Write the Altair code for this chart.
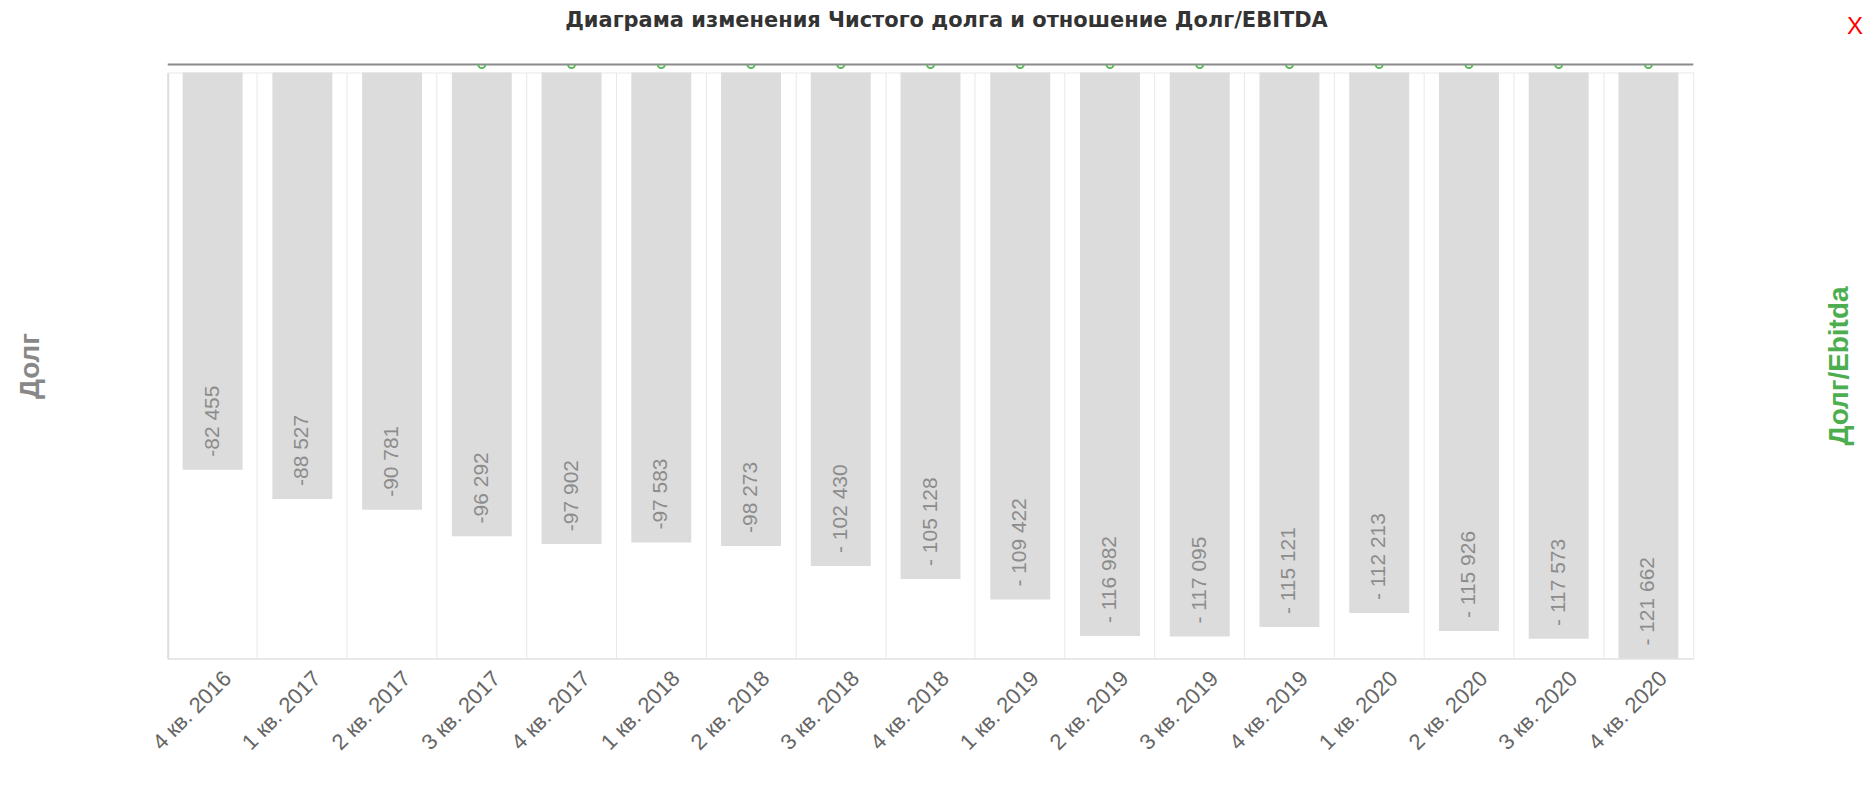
import altair as alt
import pandas as pd

quarters = ["4 кв. 2016", "1 кв. 2017", "2 кв. 2017", "3 кв. 2017", "4 кв. 2017",
            "1 кв. 2018", "2 кв. 2018", "3 кв. 2018", "4 кв. 2018",
            "1 кв. 2019", "2 кв. 2019", "3 кв. 2019", "4 кв. 2019",
            "1 кв. 2020", "2 кв. 2020", "3 кв. 2020", "4 кв. 2020"]
net_debt = [-82455, -88527, -90781, -96292, -97902, -97583, -98273, -102430, -105128,
            -109422, -116982, -117095, -115121, -112213, -115926, -117573, -121662]
debt_ebitda = [None, None, None, 0, 0, 0, 0, 0, 0, 0, 0, 0, 0, 0, 0, 0, 0]


def fmt(v):
    s = f"{abs(v):,}".replace(",", " ")
    return ("- " if abs(v) >= 100000 else "-") + s


df = pd.DataFrame({
    "q": quarters,
    "debt": net_debt,
    "label": [fmt(v) for v in net_debt],
    "ratio": debt_ebitda,
})

W, H = 1528, 587

xenc = alt.X("q:N", sort=quarters, title=None,
             scale=alt.Scale(paddingInner=0, paddingOuter=0),
             axis=alt.Axis(bandPosition=0, grid=True, gridColor="#e8e8e8", gridWidth=1,
                           ticks=False, domainColor="#e8e8e8", domainWidth=2,
                           labelAngle=-45, labelAlign="right", labelBaseline="middle",
                           labelOffset=15, labelPadding=16,
                           labelFontSize=22, labelColor="#666666", labelFont="Liberation Sans"))

yscale = alt.Scale(domain=[min(net_debt), 0], nice=False, zero=False)
yaxis = alt.Axis(orient="left", title="Долг", labels=False, ticks=False, grid=False,
                 domainColor="#dddddd", domainWidth=2,
                 titleFontSize=28, titleFont="Liberation Sans", titleFontWeight="bold",
                 titleColor="#888888", titleAngle=270, titleX=-137, titleY=H / 2,
                 titleAlign="center", titleBaseline="middle")

bars = alt.Chart(df).mark_bar(color="#dcdcdc", width=alt.RelativeBandSize(0.668)).encode(
    x=xenc,
    y=alt.Y("debt:Q", scale=yscale, axis=yaxis, title="Долг"),
)

text = alt.Chart(df).mark_text(angle=270, align="left", baseline="middle", dx=13,
                               fontSize=21, font="Liberation Sans", color="#8c8c8c").encode(
    x=alt.X("q:N", sort=quarters),
    y=alt.Y("debt:Q", scale=yscale, axis=yaxis, title="Долг"),
    text="label:N",
)

ratio_scale = alt.Scale(domain=[-1, 0], range=[H, -8], nice=False, zero=False)
raxis = alt.Axis(orient="right", title="Долг/Ebitda", labels=False, ticks=False,
                 domain=False, grid=False,
                 titleFontSize=28, titleFont="Liberation Sans", titleFontWeight="bold",
                 titleColor="#4cae4f", titleAngle=270, titleX=146, titleY=H / 2,
                 titleAlign="center", titleBaseline="middle")

rule = alt.Chart(df).mark_rule(color="#8a8a8a", strokeWidth=2).encode(
    y=alt.Y("datum_zero:Q", scale=ratio_scale, axis=raxis, title="Долг/Ebitda"),
).transform_aggregate(datum_zero="min(ratio)")

points = alt.Chart(df).mark_point(shape="M -1 0 A 1 1 0 0 0 1 0", filled=False,
                                  color="#5cb85c", strokeWidth=2, size=50, opacity=1).encode(
    x=alt.X("q:N", sort=quarters),
    y=alt.Y("ratio:Q", scale=ratio_scale, axis=raxis, title="Долг/Ebitda"),
).transform_filter("datum.ratio != null")

close_x = alt.Chart(pd.DataFrame({"t": ["X"]})).mark_text(
    fontSize=24, font="Liberation Sans", color="#ff0000", align="center", baseline="middle"
).encode(text="t:N", x=alt.value(1690), y=alt.value(-46))

chart = alt.layer(
    alt.layer(bars, text),
    alt.layer(rule, points, close_x),
).resolve_scale(y="independent").resolve_axis(y="independent").properties(
    width=W, height=H,
    autosize=alt.AutoSizeParams(type="none"),
    padding={"left": 160, "top": 64, "right": 174, "bottom": 110},
    title=alt.TitleParams("Диаграма изменения Чистого долга и отношение Долг/EBITDA",
                          anchor="middle", fontSize=21, font="DejaVu Sans", fontWeight="bold",
                          color="#333333", offset=-16, dx=16),
).configure_view(stroke="#e8e8e8", strokeWidth=1)

chart.save("out.html", embed_options={"renderer": "svg", "actions": False})
